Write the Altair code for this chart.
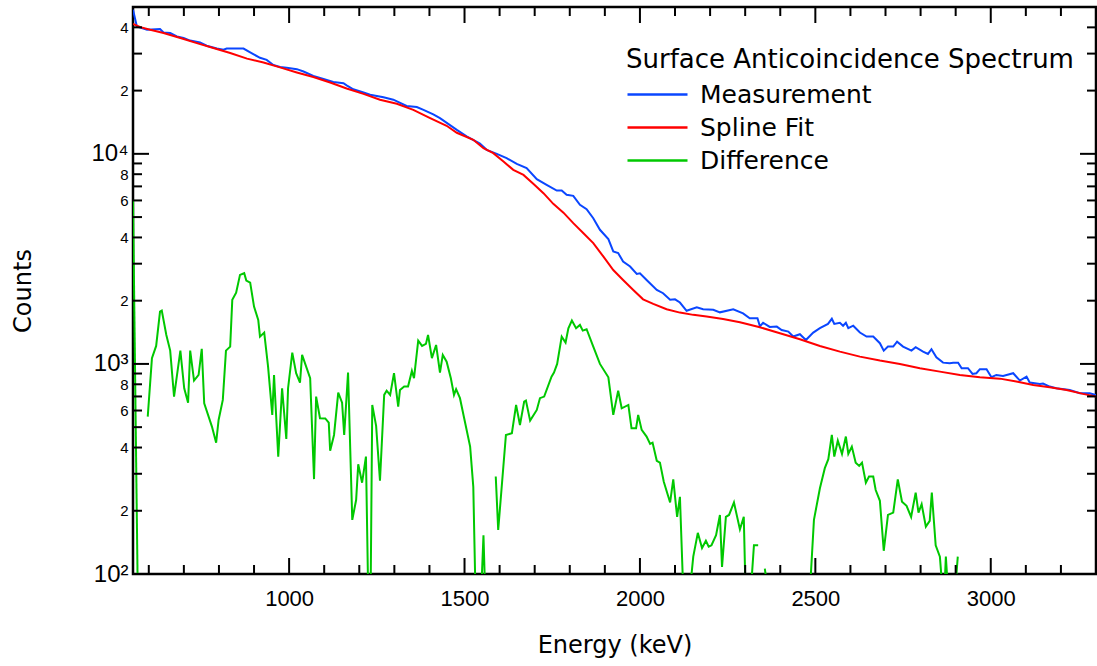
import altair as alt
import pandas as pd

# ---------------- data ----------------
meas_energy = [555, 566, 595, 632, 642, 661, 680, 699, 718, 746, 765, 794, 813, 822, 841, 870,
               889, 917, 936, 955, 974, 993, 1022, 1041, 1069, 1098, 1126, 1155, 1164, 1183,
               1212, 1231, 1269, 1297, 1335, 1364, 1383, 1411, 1430, 1478, 1506, 1544, 1563,
               1592, 1620, 1649, 1677, 1706, 1734, 1763, 1777, 1791, 1810, 1829, 1848, 1867,
               1886, 1910, 1924, 1938, 1952, 1972, 1991, 2000, 2019, 2048, 2066, 2086, 2100,
               2114, 2133, 2162, 2180, 2209, 2228, 2266, 2294, 2313, 2335, 2342, 2351, 2370,
               2390, 2404, 2423, 2437, 2456, 2473, 2494, 2513, 2536, 2547, 2554, 2570, 2579,
               2587, 2594, 2608, 2627, 2646, 2665, 2684, 2695, 2707, 2722, 2733, 2750, 2774,
               2786, 2807, 2821, 2831, 2845, 2864, 2883, 2893, 2907, 2917, 2935, 2948, 2959,
               2969, 2988, 3002, 3016, 3035, 3064, 3083, 3102, 3111, 3140, 3149, 3168, 3187,
               3225, 3254, 3282, 3300]
meas_counts = [48500, 40400, 38950, 39250, 37800, 37600, 36200, 35600, 34600, 33900, 32700,
               31700, 31300, 31700, 31700, 31700, 30400, 28650, 28000, 26500, 25900, 25700,
               25300, 24650, 23500, 22700, 22000, 21700, 21200, 20300, 19600, 19100, 18600,
               18100, 16900, 16700, 16200, 15400, 14800, 13000, 12100, 11200, 10450, 10000,
               9540, 8960, 8550, 7580, 7120, 6690, 6690, 6380, 6310, 5720, 5450, 4940, 4350,
               3930, 3430, 3370, 3070, 2910, 2680, 2700, 2510, 2250, 2170, 2020, 2030, 1960,
               1790, 1860, 1820, 1810, 1760, 1820, 1740, 1650, 1650, 1510, 1570, 1500, 1505,
               1450, 1425, 1350, 1385, 1300, 1410, 1480, 1550, 1640, 1550, 1570, 1520, 1570,
               1480, 1520, 1410, 1350, 1350, 1255, 1157, 1209, 1209, 1277, 1209, 1157, 1201,
               1144, 1116, 1175, 1076, 1014, 1008, 1014, 1014, 954, 954, 896, 903, 944, 944,
               864, 886, 877, 903, 833, 870, 815, 803, 807, 780, 766, 752, 725, 725, 710]

fit_energy = [555, 576, 604, 642, 690, 737, 784, 832, 880, 927, 974, 1022, 1069, 1117, 1164,
              1212, 1259, 1307, 1354, 1402, 1449, 1478, 1525, 1554, 1582, 1611, 1639, 1668,
              1696, 1725, 1753, 1782, 1810, 1839, 1867, 1896, 1924, 1952, 1981, 2009, 2038,
              2076, 2114, 2152, 2190, 2237, 2285, 2342, 2399, 2456, 2513, 2570, 2627, 2684,
              2741, 2798, 2855, 2912, 2969, 3026, 3073, 3121, 3168, 3216, 3263, 3300]
fit_counts = [41500, 40100, 38950, 37600, 35600, 33650, 31900, 30200, 28400, 27200, 25800,
              24400, 23200, 21850, 20460, 19300, 18100, 17300, 16200, 14800, 13600, 12600,
              11660, 10640, 10080, 9190, 8390, 7940, 7200, 6500, 5780, 5250, 4680, 4190,
              3760, 3240, 2800, 2510, 2250, 2030, 1930, 1820, 1755, 1712, 1680, 1638, 1579,
              1495, 1400, 1311, 1218, 1144, 1083, 1037, 1000, 954, 919, 886, 864, 851, 824,
              794, 774, 752, 720, 699]

# Difference: drawn only where it is positive, so it comes in separate pieces
diff1_energy = [555, 569]
diff1_counts = [6040, 70]

diff2_energy = [597, 609, 621, 632, 637, 650, 661, 672, 690, 701, 712, 718, 729, 742, 751, 758,
                780, 792, 799, 811, 820, 832, 838, 849, 860, 872, 878, 889, 900, 912, 917, 929,
                940, 952, 957, 969, 980, 992, 997, 1009, 1020, 1031, 1037, 1060, 1071, 1077,
                1088, 1103, 1113, 1117, 1128, 1140, 1151, 1157, 1168, 1180, 1191, 1197, 1208,
                1219, 1226, 1232, 1237, 1248, 1259, 1271, 1278, 1288, 1299, 1311, 1316, 1328,
                1339, 1350, 1356, 1368, 1379, 1390, 1396, 1407, 1419, 1430, 1438, 1449, 1461,
                1470, 1476, 1487, 1499, 1516, 1525, 1532, 1546, 1554, 1560]
diff2_counts = [561, 1065, 1218, 1774, 1794, 1374, 1157, 699, 1157, 766, 654, 1157, 833, 886,
                1179, 650, 503, 422, 541, 674, 1157, 1209, 2018, 2185, 2653, 2703, 2493, 2439,
                1874, 1620, 1349, 1409, 971, 572, 886, 362, 766, 439, 766, 1132, 903, 815,
                1104, 855, 283, 699, 551, 550, 525, 386, 459, 730, 654, 459, 909, 181, 225,
                333, 272, 362, 70, 70, 638, 507, 278, 712, 746, 712, 903, 626, 752, 780, 780,
                926, 855, 1291, 1218, 1245, 1374, 1065, 1231, 909, 1104, 1025, 855, 712, 758,
                687, 551, 404, 260, 70, 70, 153, 70]

diff3_energy = [1589, 1596, 1618, 1635, 1647, 1658, 1670, 1675, 1687, 1706, 1715, 1727, 1748,
                1755, 1764, 1777, 1788, 1796, 1806, 1818, 1829, 1837, 1848, 1867, 1886, 1910,
                1924, 1938, 1948, 1967, 1976, 1989, 1995, 2005, 2019, 2029, 2036, 2048, 2057,
                2068, 2086, 2095, 2106, 2114, 2125, 2138, 2152, 2165, 2177, 2188, 2196, 2204,
                2217, 2228, 2234, 2245, 2254, 2268, 2285, 2296, 2302, 2313, 2325, 2337]
diff3_counts = [291, 162, 459, 468, 638, 512, 662, 669, 537, 604, 687, 699, 870, 909, 1000,
                1349, 1264, 1479, 1608, 1479, 1533, 1441, 1463, 1209, 1000, 864, 572, 746, 615,
                638, 494, 494, 572, 485, 451, 416, 422, 346, 339, 275, 219, 282, 187, 233, 70,
                70, 121, 157, 133, 144, 135, 137, 153, 191, 108, 187, 191, 219, 163, 187, 70,
                70, 137, 137]

diff4_energy = [2356, 2366]
diff4_counts = [106, 80]

diff5_energy = [2482, 2496, 2513, 2527, 2537, 2547, 2554, 2564, 2576, 2587, 2594, 2604, 2615,
                2625, 2633, 2644, 2653, 2665, 2672, 2684, 2695, 2707, 2722, 2735, 2747, 2760,
                2773, 2786, 2794, 2803, 2815, 2826, 2832, 2843, 2855, 2866, 2872, 2881, 2895,
                2906]
diff5_counts = [70, 181, 256, 319, 352, 459, 362, 431, 373, 451, 373, 404, 339, 327, 339, 272,
                291, 291, 251, 223, 129, 191, 196, 282, 221, 211, 187, 244, 196, 215, 168, 179,
                244, 137, 121, 70, 121, 70, 70, 121]

series_names = ["Measurement", "Spline Fit", "Difference"]
series_colors = ["#0a46ff", "#ff0000", "#00c800"]

x_label_values = [1000, 1500, 2000, 2500, 3000]
x_major_ticks = [1000, 1500, 2000, 2500, 3000]
x_minor_ticks = [600, 700, 800, 900, 1100, 1200, 1300, 1400, 1600, 1700, 1800, 1900,
                 2100, 2200, 2300, 2400, 2600, 2700, 2800, 2900, 3100, 3200]
y_label_values = [100, 200, 400, 600, 800, 1000, 2000, 4000, 6000, 8000, 10000, 20000, 40000]
y_major_ticks = [100, 1000, 10000]
y_minor_ticks = [200, 300, 400, 500, 600, 700, 800, 900,
                 2000, 3000, 4000, 5000, 6000, 7000, 8000, 9000,
                 20000, 30000, 40000]

# ---------------- build table ----------------
rows = []
def add(name, seg, es, cs):
    for e, c in zip(es, cs):
        rows.append({"series": name, "seg": seg, "E": e, "C": c})

add("Measurement", "m", meas_energy, meas_counts)
add("Spline Fit", "f", fit_energy, fit_counts)
for i, (es, cs) in enumerate([(diff1_energy, diff1_counts), (diff2_energy, diff2_counts),
                              (diff3_energy, diff3_counts), (diff4_energy, diff4_counts),
                              (diff5_energy, diff5_counts)]):
    add("Difference", f"d{i}", es, cs)
df = pd.DataFrame(rows)

W, H = 963, 567
MAJ, MIN = 16, 9

xscale = alt.Scale(domain=[555, 3300], nice=False, zero=False)
yscale = alt.Scale(type="log", domain=[100, 50000], nice=False)

major_test = "datum.value == 100 || datum.value == 1000 || datum.value == 10000"
label_expr = ("datum.value == 100 ? '10\u00b2\u00a0' : datum.value == 1000 ? '10\u00b3\u00a0' : "
              "datum.value == 10000 ? '10\u2074\u00a0' : datum.value < 1000 ? '' + round(datum.value / 100) : "
              "datum.value < 10000 ? '' + round(datum.value / 1000) : '' + round(datum.value / 10000)")

xaxis = alt.Axis(
    values=x_label_values, ticks=False, tickSize=0, domain=False, grid=False,
    labelFont="Liberation Sans", labelFontSize=22, labelColor="black", labelPadding=14,
    labelOverlap=False, labelFlush=False, format="d",
    title="Energy (keV)", titleFont="DejaVu Sans", titleFontSize=24,
    titleFontWeight="normal", titleColor="black", titleY=71, titleBaseline="middle")
yaxis = alt.Axis(
    values=y_label_values, ticks=False, tickSize=0, domain=False, grid=False,
    labelExpr=label_expr, labelFont="Liberation Sans",
    labelFontSize={"condition": {"test": major_test, "value": 24}, "value": 15},
    labelColor="black", labelPadding=5, labelOverlap=False,
    title="Counts", titleFont="DejaVu Sans", titleFontSize=24, titleFontWeight="normal",
    titleColor="black", titleX=-110, titleY=H / 2, titleAngle=270,
    titleBaseline="middle", titleAlign="center")

lines = alt.Chart(df).mark_line(strokeWidth=2, clip=True).encode(
    x=alt.X("E:Q", scale=xscale, axis=xaxis),
    y=alt.Y("C:Q", scale=yscale, axis=yaxis),
    color=alt.Color("series:N",
                    scale=alt.Scale(domain=series_names, range=series_colors),
                    legend=alt.Legend(
                        title="Surface Anticoincidence Spectrum", orient="none",
                        legendX=493, legendY=40,
                        symbolType="M-1,0H3", symbolSize=900, symbolStrokeWidth=2.5,
                        labelFont="DejaVu Sans", labelFontSize=25, labelColor="black",
                        labelOffset=41, rowPadding=3, labelLimit=600, titleLimit=800,
                        titleFont="DejaVu Sans", titleFontSize=26, titleFontWeight="normal",
                        titleColor="black", titlePadding=5, padding=0)),
    detail="seg:N",
)

def yticks(vals, x0, x1):
    return alt.Chart(pd.DataFrame({"C": vals})).mark_rule(color="black", strokeWidth=2).encode(
        y=alt.Y("C:Q", scale=yscale, axis=yaxis), x=alt.value(x0), x2=alt.value(x1))

def xticks(vals, y0, y1):
    return alt.Chart(pd.DataFrame({"E": vals})).mark_rule(color="black", strokeWidth=2).encode(
        x=alt.X("E:Q", scale=xscale, axis=xaxis), y=alt.value(y0), y2=alt.value(y1))

ticks = [
    yticks(y_major_ticks, 0, MAJ), yticks(y_minor_ticks, 0, MIN),
    yticks(y_major_ticks, W, W - MAJ), yticks(y_minor_ticks, W, W - MIN),
    xticks(x_major_ticks, 0, MAJ), xticks(x_minor_ticks, 0, MIN),
    xticks(x_major_ticks, H, H - MAJ), xticks(x_minor_ticks, H, H - MIN),
]

chart = alt.layer(lines, *ticks).properties(
    width=W, height=H,
    padding={"left": 133, "top": 7, "right": 1, "bottom": 92},
    autosize=alt.AutoSizeParams(type="none"),
    background="white",
).configure_view(stroke="black", strokeWidth=2.5)

chart.save("out.html", embed_options={"renderer": "svg", "actions": False})
